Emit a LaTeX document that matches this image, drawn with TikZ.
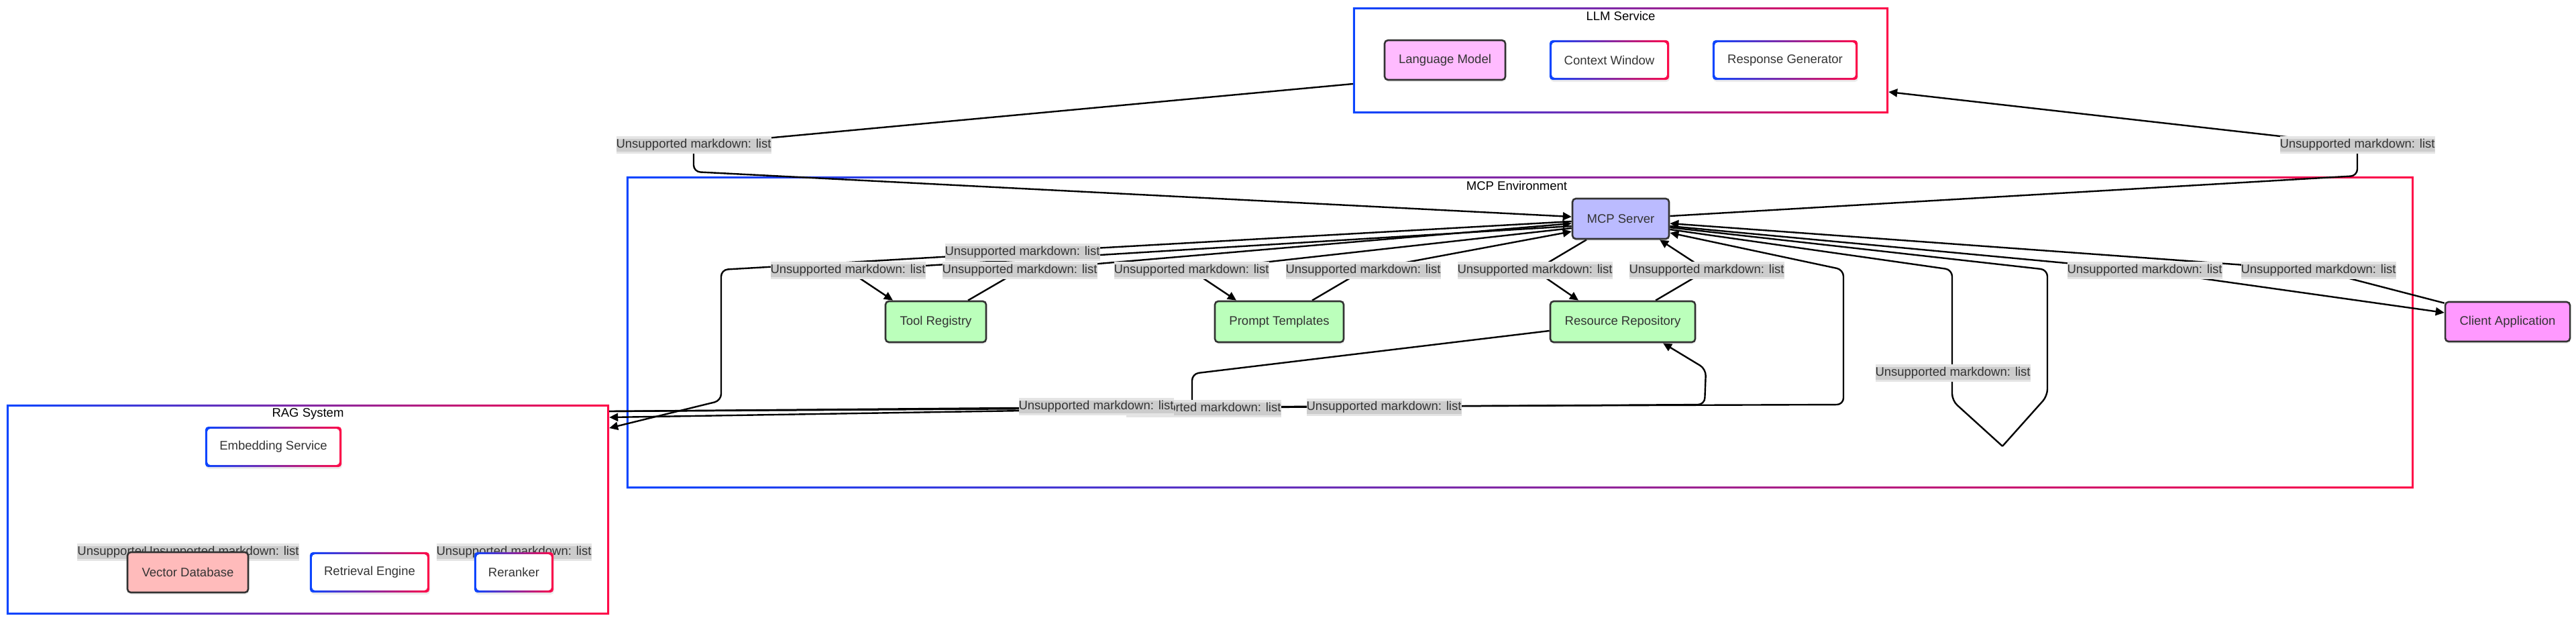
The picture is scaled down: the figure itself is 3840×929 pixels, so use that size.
\documentclass[tikz,border=0pt]{standalone}
\usepackage{fontspec}
\setmainfont{Liberation Sans}
\usetikzlibrary{arrows.meta,shadows}
\definecolor{gblue}{HTML}{0A45FF}
\definecolor{gred}{HTML}{FF0A48}
\definecolor{txt}{HTML}{333333}
\definecolor{lblout}{HTML}{E4E4E4}
\definecolor{lblin}{HTML}{CCCCCC}
\definecolor{cLM}{HTML}{FFBBFF}
\definecolor{cMCP}{HTML}{BBBBFF}
\definecolor{cTool}{HTML}{BBFFBB}
\definecolor{cClient}{HTML}{FF99FF}
\definecolor{cVec}{HTML}{FFBBBB}
\pgfdeclarelayer{background}
\pgfdeclarelayer{edges}
\pgfdeclarelayer{labels}
\pgfsetlayers{background,edges,labels,main}
\newcommand{\gring}[3]{%
  \shade[left color=gblue, right color=gred, even odd rule, rounded corners=#2]
    (#1.south west) rectangle (#1.north east)
    ([shift={(#3,#3)}]#1.south west) rectangle ([shift={(-#3,-#3)}]#1.north east);}
\begin{document}
\begin{tikzpicture}[x=1pt,y=-1pt, font=\fontsize{18.5}{22}\selectfont,
  nbox/.style={draw=txt, line width=2.6pt, rounded corners=5pt, text=txt, inner sep=0pt,
    drop shadow={shadow xshift=1pt,shadow yshift=-3pt,opacity=0.15}},
  gnode/.style={fill=white, rounded corners=5pt, text=txt, inner sep=0pt,
    drop shadow={shadow xshift=1pt,shadow yshift=-3pt,opacity=0.15}},
  sgframe/.style={inner sep=0pt},
  ttl/.style={text=black, inner sep=0pt},
  lbl/.style={text=txt, fill=lblout, inner xsep=0pt, inner ysep=0pt, minimum height=26pt,
    text height=13.5pt, text depth=4pt,
    path picture={\fill[lblin] ([yshift=-4pt]path picture bounding box.north west) rectangle ([yshift=3pt]path picture bounding box.south east);}},
  conn/.style={draw=black, line width=2.4pt, rounded corners=10pt},
  arr/.style={-{Triangle[length=13pt,width=12pt]}}
]
\useasboundingbox (0,0) rectangle (3840,929);

% subgraph frames
\begin{pgfonlayer}{background}
\node[sgframe, minimum width=798pt, minimum height=158pt] (llm) at (2416,90) {};
\gring{llm}{0pt}{3pt}
\node[sgframe, minimum width=2664pt, minimum height=465pt] (env) at (2266,495.5) {};
\gring{env}{0pt}{3pt}
\node[sgframe, minimum width=898pt, minimum height=313pt] (rag) at (459,759.5) {};
\gring{rag}{0pt}{3pt}
\end{pgfonlayer}
\node[ttl] (llmt) at (2416,24) {LLM Service};
\node[ttl] (envt) at (2261,277) {MCP Environment};
\node[ttl] (ragt) at (459,617) {RAG System};

% nodes
\node[nbox, fill=cLM, minimum width=180pt, minimum height=59pt] (lm) at (2154,89.5) {Language Model};
\node[gnode, minimum width=178pt, minimum height=59pt] (cw) at (2399,89.5) {Context Window};
\gring{cw}{5pt}{3pt}
\node[gnode, minimum width=216pt, minimum height=59pt] (rg) at (2661,89.5) {Response Generator};
\gring{rg}{5pt}{3pt}
\node[nbox, fill=cMCP, minimum width=144pt, minimum height=60pt] (mcp) at (2416,326) {MCP Server};
\node[nbox, fill=cTool, minimum width=150pt, minimum height=61pt] (tr) at (1395,479.5) {Tool Registry};
\node[nbox, fill=cTool, minimum width=192pt, minimum height=61pt] (pt) at (1907,479.5) {Prompt Templates};
\node[nbox, fill=cTool, minimum width=216pt, minimum height=61pt] (rr) at (2419,479.5) {Resource Repository};
\node[nbox, fill=cClient, minimum width=186pt, minimum height=59pt] (ca) at (3738,479.5) {Client Application};
\node[gnode, minimum width=203pt, minimum height=60pt] (es) at (407.5,666) {Embedding Service};
\gring{es}{5pt}{3pt}
\node[nbox, fill=cVec, minimum width=180pt, minimum height=60pt] (vd) at (280,853) {Vector Database};
\node[gnode, minimum width=178pt, minimum height=60pt] (re) at (551,853) {Retrieval Engine};
\gring{re}{5pt}{3pt}
\node[gnode, minimum width=118pt, minimum height=60pt] (rk) at (766,853) {Reranker};
\gring{rk}{5pt}{3pt}

% edges
\begin{pgfonlayer}{edges}
\draw[conn, arr] ([yshift=-35pt]llm.west) -- (1034,216) -- (1034,256) -- ([yshift=3pt]mcp.west);
\draw[conn, arr] ([yshift=4pt]mcp.east) -- (3514,262) -- (3514,216) -- ([yshift=-47pt]llm.east);
\draw[conn, arr] ([yshift=-4pt]mcp.west) -- (1524,376) -- (1075,402) -- (1075,597) -- ([yshift=121.5pt]rag.east);
\draw[conn, arr] ([yshift=-11pt]mcp.west) -- (1264,403) -- ([xshift=-64pt]tr.north);
\draw[conn, arr] ([xshift=48pt]tr.north) -- (1520,403) -- ([yshift=-7pt]mcp.west);
\draw[conn, arr] ([yshift=-14pt]mcp.west) -- (1776,403) -- ([xshift=-64pt]pt.north);
\draw[conn, arr] ([xshift=49pt]pt.north) -- (2032,403) -- ([yshift=-19pt]mcp.west);
\draw[conn, arr] ([xshift=-51pt]mcp.south) -- (2288,403) -- ([xshift=-66pt]rr.north);
\draw[conn, arr] ([xshift=49pt]rr.north) -- (2544,403) -- ([xshift=58pt]mcp.south);
\draw[conn, arr] ([yshift=-3pt]ca.north west) -- (3456,403) -- ([yshift=-7pt]mcp.east);
\draw[conn, arr] ([yshift=-11pt]mcp.east) -- (3197,403) -- ([yshift=13.5pt]ca.west);
\coordinate (apex) at (2985,665);
\draw[conn] ([yshift=-16pt]mcp.east) -- (2910,402) -- (2910,597) -- (apex);
\draw[conn] (apex) -- (3052,590) -- (3052,402) -- ([yshift=-13pt]mcp.east);
\draw[conn, arr] ([yshift=146.5pt]rag.east) -- (1634,607) -- (2748,603) -- (2748,402) -- ([yshift=-21pt]mcp.east);
\draw[conn, arr] ([yshift=146.5pt]rag.east) -- (2541,603) -- (2543,550) -- ([xshift=60pt]rr.south);
\draw[conn, arr] ([yshift=-13.5pt]rr.west) -- (1777,557) -- (1777,608) -- ([yshift=137.5pt]rag.east);
\end{pgfonlayer}

% edge labels
\begin{pgfonlayer}{labels}
\node[lbl] (l1) at (1034,216) {Unsupported markdown: list};
\node[lbl] (r1) at (3514,216) {Unsupported markdown: list};
\node[lbl] (t3) at (1524,376) {Unsupported markdown: list};
\node[lbl] (a1) at (1264,403) {Unsupported markdown: list};
\node[lbl] (a2) at (1520,403) {Unsupported markdown: list};
\node[lbl] (a3) at (1776,403) {Unsupported markdown: list};
\node[lbl] (a4) at (2032,403) {Unsupported markdown: list};
\node[lbl] (a5) at (2288,403) {Unsupported markdown: list};
\node[lbl] (a6) at (2544,403) {Unsupported markdown: list};
\node[lbl] (a7) at (3197,403) {Unsupported markdown: list};
\node[lbl] (a8) at (3456,403) {Unsupported markdown: list};
\node[lbl] (p1) at (2911,556) {Unsupported markdown: list};
\node[lbl] (b2) at (1794,609) {Unsupported markdown: list};
\node[lbl] (b1) at (1634,606) {Unsupported markdown: list};
\node[lbl] (b3) at (2063,607) {Unsupported markdown: list};
\node[lbl] (g1) at (231,823) {Unsupported markdown: list};
\node[lbl] (g2) at (330,823) {Unsupported markdown: list};
\node[lbl] (g3) at (766,823) {Unsupported markdown: list};
\end{pgfonlayer}
\end{tikzpicture}
\end{document}
